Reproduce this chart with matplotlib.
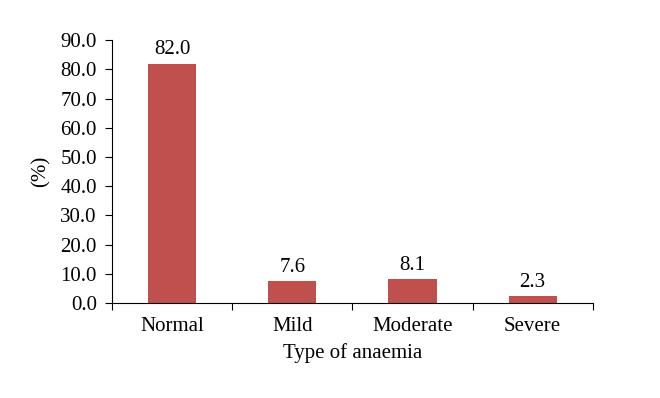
import matplotlib.pyplot as plt

# Anaemia prevalence by type
categories = ['Normal', 'Mild', 'Moderate', 'Severe']
percent = [82.0, 7.6, 8.1, 2.3]
y_ticks = [0.0, 10.0, 20.0, 30.0, 40.0, 50.0, 60.0, 70.0, 80.0, 90.0]

plt.rcParams['font.family'] = ['Liberation Serif', 'DejaVu Serif']
fs = 15

fig = plt.figure(figsize=(6.6, 3.98), dpi=100)
ax = fig.add_axes([0.170, 0.239, 0.728, 0.660])

x = range(len(categories))
bars = ax.bar(x, percent, width=0.4, color='#C0504D')

# value labels on top of the bars
for b, v in zip(bars, percent):
    ax.annotate(f'{v:.1f}', (b.get_x() + b.get_width() / 2, v),
                xytext=(0, 3), textcoords='offset points',
                ha='center', va='bottom', fontsize=fs)

ax.set_xlim(-0.5, len(categories) - 0.5)
ax.set_ylim(0, 90)
ax.set_yticks(y_ticks)
ax.set_yticklabels([f'{t:.1f}' for t in y_ticks], fontsize=fs)

# ticks at the category boundaries, labels centred under the bars
ax.set_xticks([i - 0.5 for i in range(len(categories) + 1)])
ax.set_xticklabels([])
ax.set_xticks(list(x), minor=True)
ax.set_xticklabels(categories, minor=True, fontsize=fs)
ax.tick_params(axis='x', which='minor', length=0, pad=10)
ax.tick_params(axis='x', which='major', length=5, direction='out')
ax.tick_params(axis='y', length=5, direction='out', pad=6)

for s in ['top', 'right']:
    ax.spines[s].set_visible(False)

ax.set_xlabel('Type of anaemia', fontsize=fs, labelpad=5)
ax.set_ylabel('(%)', fontsize=fs, labelpad=7)

fig.savefig('out.png', dpi=100)
